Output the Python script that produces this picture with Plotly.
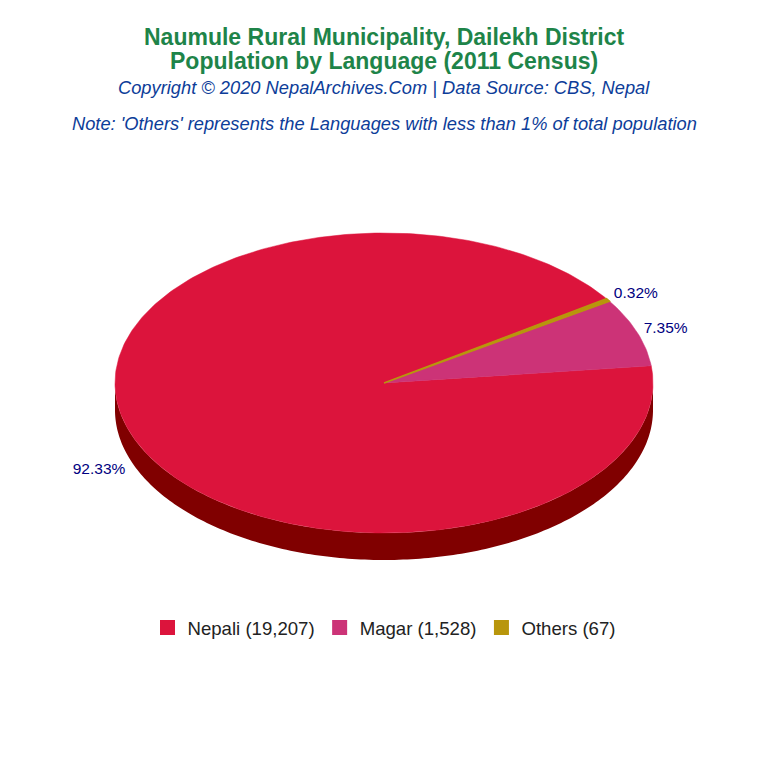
import numpy as np
import plotly.graph_objects as go

# data
languages = ["Nepali", "Magar", "Others"]
population = [19207, 1528, 67]
colors = ["#DC143C", "#CC3377", "#B8960C"]
side_color = "#800000"

# pie geometry (screen pixels)
cx, cy = 384, 383
rx, ry = 269, 150
depth = 27
start_angle = 34.2  # degrees, counter-clockwise
off = 8  # page body margin

total = sum(population)
shares = [p / total for p in population]


def ellipse(a0, a1, dy=0, n=200):
    t = np.radians(np.linspace(a0, a1, n))
    return cx + rx * np.cos(t), cy - ry * np.sin(t) + dy


def py(ypx):
    # screen pixel -> paper y
    return 1 - (ypx - off) / 768


fig = go.Figure()

# side wall (front half)
xt, yt = ellipse(180, 360)
xb, yb = ellipse(360, 180, dy=depth)
fig.add_trace(go.Scatter(
    x=np.concatenate([xt, xb]), y=np.concatenate([yt, yb]),
    fill="toself", fillcolor=side_color, mode="none",
    showlegend=False, hoverinfo="skip"))

# top slices
a = start_angle
label_x, label_y, label_txt, label_pos = [], [], [], []
for name, s, c in zip(languages, shares, colors):
    a1 = a + s * 360
    ex, ey = ellipse(a, a1, n=max(int(s * 400), 4))
    fig.add_trace(go.Scatter(
        x=np.concatenate([[cx], ex, [cx]]), y=np.concatenate([[cy], ey, [cy]]),
        fill="toself", fillcolor=c, mode="lines",
        line=dict(width=1.5 if s < 0.01 else 0.5, color=c),
        showlegend=False, hoverinfo="skip"))
    mid = np.radians((a + a1) / 2)
    lx = cx + (rx + 7) * np.cos(mid)
    ly = cy - (ry + 10) * np.sin(mid) + (depth + 4 if np.sin(mid) < 0 else 0)
    label_x.append(lx)
    label_y.append(ly)
    label_txt.append(f"{s * 100:.2f}%")
    label_pos.append("middle right" if np.cos(mid) >= 0 else "middle left")
    a = a1

fig.add_trace(go.Scatter(
    x=label_x, y=label_y, text=label_txt, mode="text",
    textposition=label_pos,
    textfont=dict(family="Liberation Sans, Arial", size=15.5, color="#000080"),
    showlegend=False, hoverinfo="skip"))

# legend entries
for name, p, c in zip(languages, population, colors):
    fig.add_trace(go.Scatter(
        x=[None], y=[None], mode="markers", name=f"{name} ({p:,})",
        marker=dict(symbol="square", size=15, color=c)))

title_font = dict(size=23, color="#1E8449")
sub_font = dict(size=18.3, color="#0D3D99", style="italic")

fig.update_layout(
    width=768, height=768,
    margin=dict(l=0, r=0, t=0, b=0),
    paper_bgcolor="white", plot_bgcolor="white",
    xaxis=dict(range=[off, 768 + off], visible=False, fixedrange=True),
    yaxis=dict(range=[768 + off, off], visible=False, fixedrange=True),
    font=dict(family="Liberation Sans, Arial"),
    legend=dict(orientation="h", x=0.5 - off / 768, xanchor="center",
                y=py(628), yanchor="middle",
                font=dict(size=18.6, color="#222222"),
                itemclick=False),
    annotations=[
        dict(text="<b>Naumule Rural Municipality, Dailekh District</b>",
             x=0.5 - off / 768, y=py(37), xref="paper", yref="paper",
             yanchor="middle", showarrow=False, font=title_font),
        dict(text="<b>Population by Language (2011 Census)</b>",
             x=0.5 - off / 768, y=py(61), xref="paper", yref="paper",
             yanchor="middle", showarrow=False, font=title_font),
        dict(text="Copyright © 2020 NepalArchives.Com | Data Source: CBS, Nepal",
             x=0.5 - off / 768, y=py(87), xref="paper", yref="paper",
             yanchor="middle", showarrow=False, font=sub_font),
        dict(text="Note: 'Others' represents the Languages with less than 1% of total population",
             x=0.5 - off / 768, y=py(124), xref="paper", yref="paper",
             yanchor="middle", showarrow=False, font=sub_font),
    ],
)

fig.write_html("out.html")
